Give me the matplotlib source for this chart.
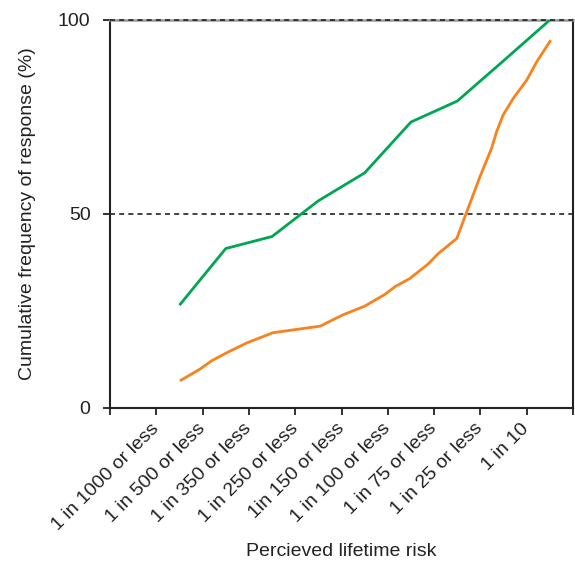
import matplotlib
matplotlib.use("Agg")
import matplotlib.pyplot as plt

plt.rcParams['font.family'] = ['Liberation Sans', 'DejaVu Sans']

# Risk categories (labelled at ticks 1..9)
categories = ["1 in 1000 or less", "1 in 500 or less", "1 in 350 or less",
              "1 in 250 or less", "1in 150 or less", "1 in 100 or less",
              "1 in 75 or less", "1 in 25 or less", "1 in 10"]

# Cumulative response, series 1 (one value per category, plotted mid-interval)
green_x = [1.5, 2.5, 3.5, 4.5, 5.5, 6.5, 7.5, 8.5, 9.5]
green_y = [26.5, 41.1, 44.2, 53.4, 60.6, 73.7, 79.1, 89.5, 100.0]

# Cumulative response, series 2 (finer resolution)
orange_x = [1.51, 1.94, 2.20, 2.53, 2.96, 3.52, 4.54, 5.03, 5.51, 5.94, 6.16,
            6.48, 6.87, 7.08, 7.49, 7.99, 8.24, 8.35, 8.49, 8.71, 9.00, 9.22, 9.52]
orange_y = [7.0, 10.0, 12.2, 14.3, 16.8, 19.4, 21.1, 24.0, 26.3, 29.3, 31.3,
            33.4, 37.1, 39.7, 43.7, 59.6, 66.9, 71.2, 75.5, 79.8, 84.5, 89.3, 94.8]

y_ticks = [0, 50, 100]

fig = plt.figure(figsize=(5.75, 5.61), dpi=100)
ax = fig.add_axes([110 / 575, 1 - 408 / 561, 463 / 575, 388 / 561])

ax.plot(green_x, green_y, color='#00a651', lw=2.0, solid_capstyle='butt', zorder=3)
ax.plot(orange_x, orange_y, color='#f7821e', lw=2.0, solid_capstyle='butt', zorder=3)

ax.axhline(50, color='#222222', lw=1.2, ls=(0, (3, 2.5)), zorder=2)
ax.axhline(100, color='#222222', lw=1.2, ls=(0, (3, 2.5)), zorder=4, clip_on=False)

ax.set_xlim(0, 10)
ax.set_ylim(0, 100)

for side in ['left', 'bottom', 'right']:
    ax.spines[side].set_linewidth(1.5)
    ax.spines[side].set_color('#222222')
ax.spines['top'].set_color('#999999')
ax.spines['top'].set_linewidth(1.8)

ax.set_yticks(y_ticks)
ax.set_yticklabels([str(v) for v in y_ticks])
ax.set_xticks(range(0, 11))
ax.set_xticklabels([''] + categories + [''], rotation=45, ha='right',
                   va='center', rotation_mode='anchor')
ax.tick_params(axis='both', direction='out', length=5, width=1.3,
               color='#222222', labelsize=14, labelcolor='#222222')
ax.tick_params(axis='y', pad=9)
ax.tick_params(axis='x', pad=8)

ax.set_ylabel('Cumulative frequency of response (%)', fontsize=14,
              color='#222222', labelpad=16)
ax.set_xlabel('Percieved lifetime risk', fontsize=14, color='#222222', labelpad=7)

fig.savefig('out.png', dpi=100)
